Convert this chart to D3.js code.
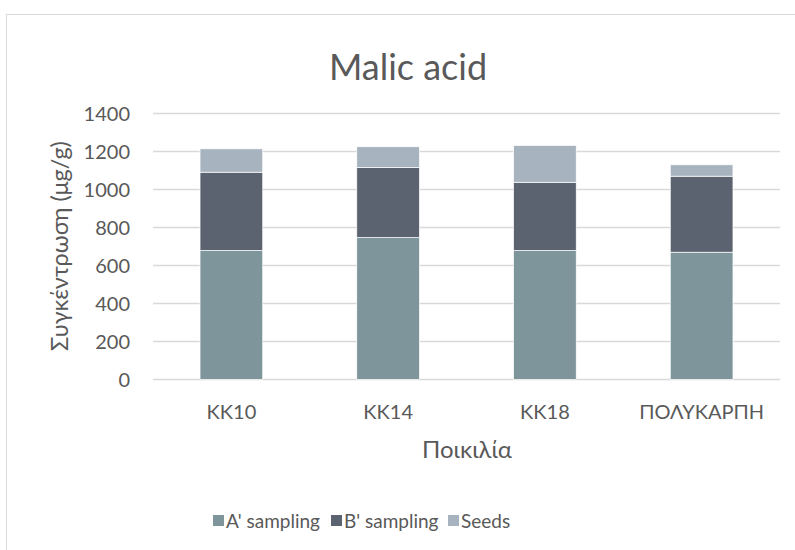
<!DOCTYPE html>
<html>
<head>
<meta charset="utf-8">
<script src="https://cdn.jsdelivr.net/npm/d3@7"></script>
<style>
  body { margin: 0; background: #fff; }
  text { font-family: Lato, "Open Sans", sans-serif; fill: #595959; }
</style>
</head>
<body>
<div id="chart-area"></div>
<script>
let width = 795,
    height = 550;

// data
let varieties = ["KK10", "KK14", "KK18", "ΠΟΛΥΚΑΡΠΗ"];
let seriesNames = ["A' sampling", "B' sampling", "Seeds"];
let aSampling = [679, 747, 679, 670];
let bSampling = [412, 369, 359, 400];
let seeds = [123, 109, 194, 60];
let yTicks = [0, 200, 400, 600, 800, 1000, 1200, 1400];
let colors = ["#7f959c", "#5c6370", "#a8b3c0"];

let svg = d3.select("#chart-area").append("svg")
  .attr("width", width)
  .attr("height", height);

// chart border
svg.append("rect")
  .attr("x", 6.5).attr("y", 14.5)
  .attr("width", 820).attr("height", 600)
  .attr("fill", "none")
  .attr("stroke", "#d9d9d9");

let plot = {left: 153, right: 780, top: 113.5, bottom: 379.5};

let x = d3.scaleBand()
  .domain(varieties)
  .range([plot.left, plot.right])
  .paddingInner(0.6)
  .paddingOuter(0.3);

let y = d3.scaleLinear()
  .domain([0, 1400])
  .range([plot.bottom, plot.top]);

// gridlines
svg.selectAll(".grid")
  .data(yTicks)
  .enter().append("line")
  .attr("class", "grid")
  .attr("x1", plot.left).attr("x2", plot.right)
  .attr("y1", d => y(d)).attr("y2", d => y(d))
  .attr("stroke", "#d9d9d9")
  .attr("stroke-width", 1.3);

// y axis labels
let yAxis = d3.axisLeft(y).tickValues(yTicks).tickFormat(d3.format("d")).tickSize(0).tickPadding(0);
let yg = svg.append("g").attr("transform", "translate(" + (plot.left - 23) + ",0)").call(yAxis);
yg.select(".domain").remove();
yg.selectAll("text").attr("font-size", 20).attr("dy", "0.35em").style("font-family", null);

// stacked bars
let rows = varieties.map((v, i) => ({variety: v, a: aSampling[i], b: bSampling[i], s: seeds[i]}));
let stack = d3.stack().keys(["a", "b", "s"]);
let layers = stack(rows);

svg.selectAll(".layer")
  .data(layers)
  .enter().append("g")
  .attr("class", "layer")
  .attr("fill", (d, i) => colors[i])
  .selectAll("rect")
  .data(d => d)
  .enter().append("rect")
  .attr("x", d => x(d.data.variety))
  .attr("width", x.bandwidth())
  .attr("y", d => y(d[1]))
  .attr("height", d => y(d[0]) - y(d[1]))
  .attr("stroke", "#ffffff")
  .attr("stroke-width", 0.7);

// x axis labels
let xAxis = d3.axisBottom(x).tickSize(0).tickPadding(0);
let xg = svg.append("g").attr("transform", "translate(0," + (plot.bottom + 25) + ")").call(xAxis);
xg.select(".domain").remove();
xg.selectAll("text").attr("font-size", 20).attr("dy", "0.71em").style("font-family", null);

// title
svg.append("text")
  .attr("x", 408).attr("y", 80)
  .attr("text-anchor", "middle")
  .attr("font-size", 36)
  .text("Malic acid");

// axis titles
svg.append("text")
  .attr("x", 467).attr("y", 458)
  .attr("text-anchor", "middle")
  .attr("font-size", 24)
  .text("Ποικιλία");

svg.append("text")
  .attr("transform", "translate(68,246) rotate(-90)")
  .attr("text-anchor", "middle")
  .attr("font-size", 23.5)
  .text("Συγκέντρωση (μg/g)");

// legend
let legendX = [213, 331, 448];
let legend = svg.selectAll(".legend")
  .data(seriesNames)
  .enter().append("g")
  .attr("class", "legend")
  .attr("transform", (d, i) => "translate(" + legendX[i] + ",521)");

legend.append("rect")
  .attr("x", 0).attr("y", -6)
  .attr("width", 11).attr("height", 11)
  .attr("fill", (d, i) => colors[i]);

legend.append("text")
  .attr("x", 13).attr("y", 0)
  .attr("dy", "0.35em")
  .attr("font-size", 19)
  .text(d => d);
</script>
</body>
</html>
